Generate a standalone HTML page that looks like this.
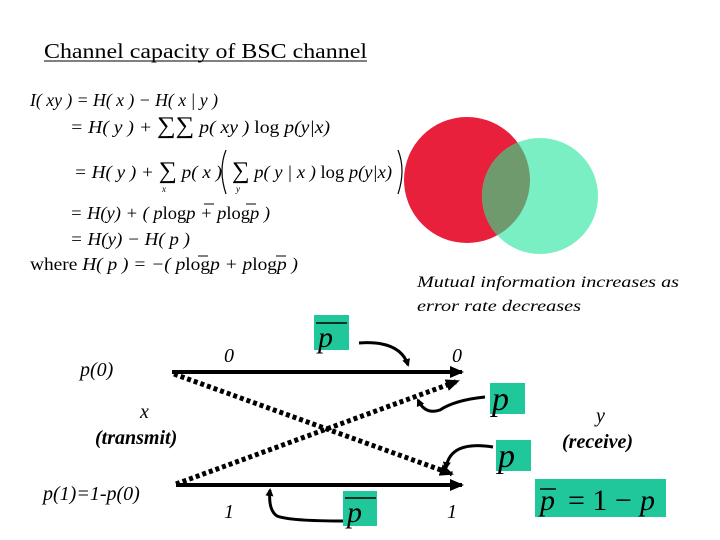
<!DOCTYPE html>
<html><head><meta charset="utf-8"><style>
body{margin:0;background:#fff}
svg{display:block}
text{font-family:"Liberation Serif",serif}
</style></head><body>
<svg width="720" height="540" viewBox="0 0 720 540" xmlns="http://www.w3.org/2000/svg">
<defs>
<marker id="ah" markerWidth="8" markerHeight="8" refX="6" refY="4" orient="auto" markerUnits="userSpaceOnUse"><path d="M0,0 L8,4 L0,8 z" fill="#000"/></marker>
<marker id="ab" markerWidth="14" markerHeight="12" refX="12" refY="6" orient="auto" markerUnits="userSpaceOnUse"><path d="M0,0 L14,6 L0,12 z" fill="#000"/></marker>
</defs>
<text x="44" y="58" font-size="21" textLength="323" lengthAdjust="spacingAndGlyphs">Channel capacity of BSC channel</text>
<line x1="44" y1="61" x2="367" y2="61" stroke="#000" stroke-width="1"/>
<g font-size="18" font-style="italic">
<text x="30" y="106" textLength="188" lengthAdjust="spacingAndGlyphs">I( xy ) = H( x ) − H( x | y )</text>
<text x="70" y="133" textLength="260" lengthAdjust="spacingAndGlyphs">= H( y ) + <tspan font-style="normal" font-size="24">∑∑</tspan> p( xy ) <tspan font-style="normal">log</tspan>  p(y|x)</text>
<text x="74" y="178" textLength="148" lengthAdjust="spacingAndGlyphs">=  H( y ) + <tspan font-style="normal" font-size="24">∑</tspan> p( x )</text>
<text x="232" y="178" textLength="160" lengthAdjust="spacingAndGlyphs"><tspan font-style="normal" font-size="24">∑</tspan> p( y | x ) <tspan font-style="normal">log</tspan>  p(y|x)</text>
<text x="162" y="192" font-size="9">x</text>
<text x="236" y="192" font-size="9">y</text>
<text x="70" y="219" textLength="200" lengthAdjust="spacingAndGlyphs">= H(y) + ( p<tspan font-style="normal">log</tspan>p + p<tspan font-style="normal">log</tspan>p )</text>
<text x="70" y="245" textLength="120" lengthAdjust="spacingAndGlyphs">= H(y) − H( p )</text>
<text x="30" y="270" textLength="268" lengthAdjust="spacingAndGlyphs"><tspan font-style="normal">where</tspan>    H( p ) = −( p<tspan font-style="normal">log</tspan>p + p<tspan font-style="normal">log</tspan>p )</text>
</g>
<g stroke="#000" stroke-width="1">
<line x1="204" y1="204" x2="214" y2="204"/><line x1="246" y1="204" x2="256" y2="204"/>
<line x1="198" y1="256" x2="208" y2="256"/><line x1="276" y1="256" x2="286" y2="256"/>
</g>
<path d="M226,150 Q218,170 226,194 M398,150 Q406,170 398,194" stroke="#000" fill="none" stroke-width="1.2"/>
<circle cx="467" cy="180" r="63" fill="#e8203c"/>
<circle cx="540" cy="196" r="58" fill="#7aefc4"/>
<clipPath id="c1"><circle cx="467" cy="180" r="63"/></clipPath>
<circle cx="540" cy="196" r="58" fill="#6e9a6e" clip-path="url(#c1)"/>
<text x="417" y="287" font-size="16" font-style="italic" textLength="262" lengthAdjust="spacingAndGlyphs">Mutual information increases as</text>
<text x="417" y="311" font-size="16" font-style="italic" textLength="164" lengthAdjust="spacingAndGlyphs">error rate decreases</text>
<g font-size="20" font-style="italic">
<text x="80" y="376">p(0)</text>
<text x="224" y="362">0</text>
<text x="452" y="362">0</text>
<text x="140" y="418">x</text>
<text x="95" y="444" font-weight="bold">(transmit)</text>
<text x="596" y="422">y</text>
<text x="562" y="448" font-weight="bold">(receive)</text>
<text x="43" y="500">p(1)=1-p(0)</text>
<text x="224" y="518">1</text>
<text x="447" y="518">1</text>
</g>
<line x1="172" y1="372" x2="462" y2="372" stroke="#000" stroke-width="4" marker-end="url(#ab)"/>
<line x1="176" y1="485" x2="462" y2="485" stroke="#000" stroke-width="4" marker-end="url(#ab)"/>
<line x1="174" y1="374" x2="452" y2="474" stroke="#000" stroke-width="5" stroke-dasharray="4,3" marker-end="url(#ab)"/>
<line x1="176" y1="484" x2="458" y2="381" stroke="#000" stroke-width="5" stroke-dasharray="4,3" marker-end="url(#ab)"/>
<g fill="#1fc79a">
<rect x="314" y="315" width="35" height="35"/>
<rect x="490" y="383" width="35" height="31"/>
<rect x="496" y="440" width="35" height="31"/>
<rect x="343" y="491" width="34" height="35"/>
<rect x="535" y="479" width="131" height="38"/>
</g>
<g font-size="30" font-style="italic">
<text x="318" y="347">p</text><line x1="316" y1="323" x2="347" y2="323" stroke="#000" stroke-width="1.5"/>
<text x="347" y="522">p</text><line x1="345" y1="498" x2="376" y2="498" stroke="#000" stroke-width="1.5"/>
<text x="492" y="410" font-size="34">p</text>
<text x="498" y="467" font-size="34">p</text>
<text x="540" y="510">p</text><line x1="540" y1="489" x2="556" y2="489" stroke="#000" stroke-width="1.5"/>
<text x="568" y="510" font-style="normal">= 1 − </text><text x="640" y="510">p</text>
</g>
<g stroke="#000" stroke-width="3" fill="none">
<path d="M359,343 Q400,340 408,365" marker-end="url(#ah)"/>
<path d="M485,397 Q455,400 440,410 Q425,415 418,400" marker-end="url(#ah)"/>
<path d="M493,447 Q450,440 446,468" marker-end="url(#ah)"/>
<path d="M343,521 Q290,521 277,516 Q268,510 270,490" marker-end="url(#ah)"/>
</g>
</svg>
</body></html>
